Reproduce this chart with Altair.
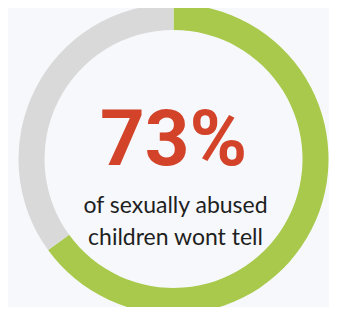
import altair as alt
import pandas as pd

categories = ["Won't tell", "Other"]
values = [65, 35]
headline = "73%"
caption_lines = ["of sexually abused", "children wont tell"]

df = pd.DataFrame({"category": categories, "value": values, "order": [0, 1]})

CX, CY = 165.5, 151

ring = alt.Chart(df).mark_arc(outerRadius=155, innerRadius=129, stroke=None).encode(
    theta=alt.Theta("value:Q", stack=True),
    order=alt.Order("order:Q"),
    color=alt.Color("category:N", scale=alt.Scale(domain=categories, range=["#a8c94b", "#d9d9d9"]), legend=None),
    x=alt.value(CX),
    y=alt.value(CY),
)

big = alt.Chart(pd.DataFrame({"t": [headline]})).mark_text(
    font="Roboto", fontWeight="bold", fontSize=78, color="#d2432a",
    align="center", baseline="alphabetic",
).encode(text="t:N", x=alt.value(CX), y=alt.value(157))

cap = alt.Chart(pd.DataFrame({"t": [0]})).mark_text(
    text=caption_lines, font="Lato", fontSize=23, color="#1f1f1f", lineHeight=32,
    align="center", baseline="alphabetic",
).encode(x=alt.value(CX + 2), y=alt.value(205))

chart = alt.layer(ring, big, cap).properties(
    width=321, height=299, padding=0, autosize="none", background="#f6f8fb"
).configure_view(stroke=None)

chart.save("out.html", embed_options={"renderer": "svg", "actions": False})
